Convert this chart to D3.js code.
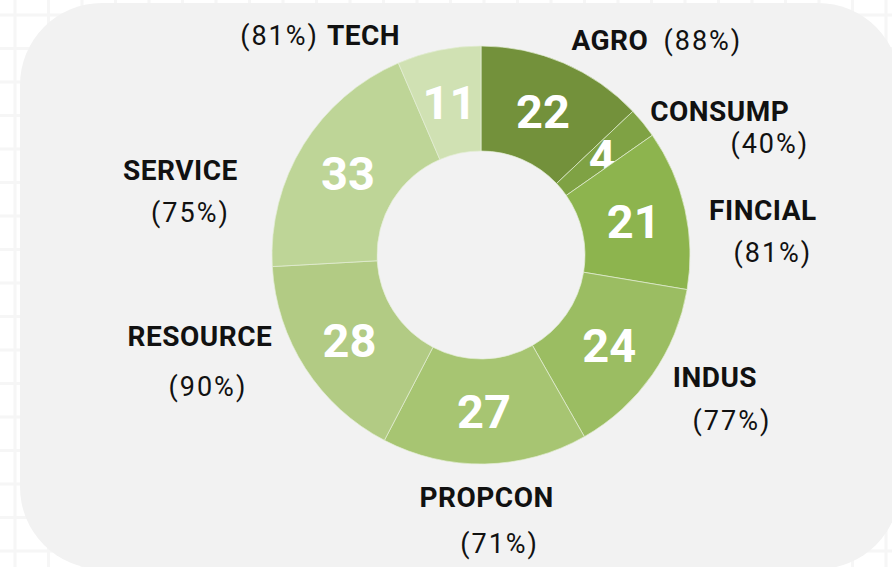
<!DOCTYPE html>
<html>
<head>
<meta charset="utf-8">
<script src="https://cdn.jsdelivr.net/npm/d3@7"></script>
<style>
  body { margin: 0; background: #fff; }
  svg { display: block; font-family: Roboto, "Liberation Sans", sans-serif; }
</style>
</head>
<body>
<svg width="892" height="567"></svg>
<script>
var sectors = ["AGRO", "CONSUMP", "FINCIAL", "INDUS", "PROPCON", "RESOURCE", "SERVICE", "TECH"];
var counts = [22, 4, 21, 24, 27, 28, 33, 11];
var percents = [88, 40, 81, 77, 71, 90, 75, 81];

var colors = ["#73913b", "#7fa244", "#8db44e", "#9bbd62", "#a7c572", "#b2cb84", "#bed597", "#d0e1b3"];
// label nudges from the outer centroid: [name dx, name dy, pct dx, pct dy]
var nudges = [[30, 25, 93, 0], [45, 24, 50, 32], [38, 20, 10, 42], [29, -11, 17, 43],
              [1, 2, 13, 46], [-71, -45, 8, 50], [-88, 57, 10, 42], [-67, 35, -84, 0]];

var svgWidth = 892, svgHeight = 567;
var cx = 481, cy = 255, outerR = 209, innerR = 104;

var svg = d3.select("svg");

// faint grid on the page
var gridStep = 33.5;
var grid = svg.append("g").attr("stroke", "#f6f6f6").attr("stroke-width", 3);
grid.selectAll("line.h").data(d3.range(15, svgHeight, gridStep)).enter().append("line")
    .attr("x1", 0).attr("x2", svgWidth).attr("y1", d => d).attr("y2", d => d);
grid.selectAll("line.v").data(d3.range(15, svgWidth, gridStep)).enter().append("line")
    .attr("y1", 0).attr("y2", svgHeight).attr("x1", d => d).attr("x2", d => d);

// panel
svg.append("rect")
   .attr("x", 20).attr("y", 3)
   .attr("width", 880).attr("height", 566)
   .attr("rx", 82).attr("ry", 82)
   .attr("fill", "#f2f2f2");

var data = sectors.map(function(s, i) {
  return {name: s, value: counts[i], pct: percents[i], color: colors[i], nudge: nudges[i]};
});

var pie = d3.pie().sort(null).value(d => d.value);
var arc = d3.arc().innerRadius(innerR).outerRadius(outerR);
var labelArc = d3.arc().innerRadius(250).outerRadius(250);

var g = svg.append("g").attr("transform", "translate(" + cx + "," + cy + ")");
var slices = g.selectAll("g.slice").data(pie(data)).enter().append("g").attr("class", "slice");

slices.append("path")
      .attr("d", arc)
      .attr("fill", d => d.data.color)
      .attr("stroke", "#e4eed6")
      .attr("stroke-width", 0.7);

slices.append("text")
      .attr("transform", d => "translate(" + arc.centroid(d) + ")")
      .attr("dy", "0.36em")
      .attr("text-anchor", "middle")
      .attr("fill", "#fff")
      .attr("font-weight", "bold")
      .attr("font-size", 47)
      .text(d => d.data.value);

// outer labels
slices.each(function(d) {
  var c = labelArc.centroid(d), n = d.data.nudge;
  var x = c[0] + n[0], y = c[1] + n[1];
  var sel = d3.select(this);
  sel.append("text")
     .attr("x", x).attr("y", y)
     .attr("text-anchor", "middle")
     .attr("font-weight", "bold")
     .attr("font-size", 28)
     .attr("letter-spacing", 0.5)
     .attr("fill", "#111")
     .text(d.data.name);
  sel.append("text")
     .attr("x", x + n[2]).attr("y", y + n[3])
     .attr("text-anchor", "middle")
     .attr("font-size", 27)
     .attr("letter-spacing", 2)
     .attr("fill", "#111")
     .text("(" + d.data.pct + "%)");
});
</script>
</body>
</html>
